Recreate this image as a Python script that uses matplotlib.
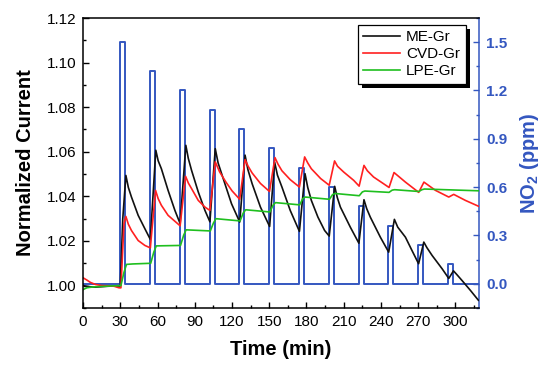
import matplotlib
matplotlib.use("Agg")
import matplotlib.pyplot as plt
from matplotlib.ticker import MultipleLocator
from matplotlib.patches import Rectangle

plt.rcParams['font.family'] = ['Liberation Sans', 'DejaVu Sans']
plt.rcParams['mathtext.fontset'] = 'custom'
plt.rcParams['mathtext.rm'] = 'Liberation Sans'
plt.rcParams['mathtext.bf'] = 'Liberation Sans:bold'

# ---- data ----
me_t = [0, 5, 10, 15, 20, 25, 30,
        32, 34.5, 36.5, 39, 44.4, 49.8, 54.2,
        58.6, 60.5, 63.1, 68.5, 74, 78.2,
        82.8, 84.8, 87.4, 92.8, 98.2, 102.2,
        106.5, 108.8, 112.9, 119.6, 126.2,
        130.5, 132.8, 136.2, 142.9, 150.3,
        154.3, 156.6, 160.2, 166.9, 174.3,
        178.8, 181, 183.9, 189.2, 194.6, 198.3,
        202.7, 204.8, 207.3, 215.3, 222.2,
        226.3, 228.5, 231.4, 239.5, 246.2,
        250.8, 253.5, 259.7, 265, 270.3,
        274.5, 277, 281.2, 289.3, 294.6,
        298.4, 301, 305.4, 312.1, 318.5]
me_v = [1.0000, 0.9995, 0.9993, 0.9995, 0.9997, 0.9998, 0.9998,
        1.0300, 1.0494, 1.0440, 1.0397, 1.0315, 1.0255, 1.0207,
        1.0607, 1.0560, 1.0524, 1.0427, 1.0337, 1.0278,
        1.0629, 1.0570, 1.0517, 1.0420, 1.0337, 1.0286,
        1.0614, 1.0550, 1.0480, 1.0367, 1.0285,
        1.0585, 1.0520, 1.0457, 1.0352, 1.0265,
        1.0554, 1.0495, 1.0442, 1.0337, 1.0243,
        1.0502, 1.0440, 1.0382, 1.0307, 1.0247, 1.0222,
        1.0445, 1.0395, 1.0352, 1.0262, 1.0190,
        1.0385, 1.0345, 1.0307, 1.0217, 1.0150,
        1.0297, 1.0262, 1.0217, 1.0157, 1.0098,
        1.0195, 1.0170, 1.0135, 1.0075, 1.0032,
        1.0066, 1.0050, 1.0022, 0.9978, 0.9934]

cvd_t = [0, 3, 6, 10, 15, 20, 25, 29, 30.5,
         33, 34.5, 36.5, 39, 44.4, 49.8, 54.2,
         58.4, 60.5, 63.1, 68.5, 78.2,
         82.6, 84.8, 87.4, 92.8, 98.2, 102.2,
         106.5, 110, 115, 120, 126.2,
         130.5, 133, 136.2, 142.9, 150.2,
         154.6, 157, 160.2, 166.9, 174.3,
         178.5, 181, 183.9, 191.4, 198.3,
         202.6, 205, 210, 218, 222.4,
         226.3, 229, 234, 242, 246.5,
         250.5, 259.7, 270.4,
         274.6, 283.9, 294.6,
         298.6, 308, 318.5]
cvd_v = [1.0035, 1.0025, 1.0014, 1.0005, 1.0000, 0.9999, 0.9997, 0.9990, 0.9990,
         1.0280, 1.0310, 1.0275, 1.0247, 1.0202, 1.0180, 1.0169,
         1.0427, 1.0390, 1.0360, 1.0315, 1.0268,
         1.0490, 1.0460, 1.0435, 1.0382, 1.0352, 1.0337,
         1.0555, 1.0510, 1.0465, 1.0425, 1.0387,
         1.0565, 1.0535, 1.0505, 1.0458, 1.0422,
         1.0574, 1.0545, 1.0515, 1.0475, 1.0442,
         1.0577, 1.0550, 1.0524, 1.0480, 1.0450,
         1.0559, 1.0535, 1.0509, 1.0472, 1.0446,
         1.0539, 1.0515, 1.0487, 1.0457, 1.0440,
         1.0507, 1.0464, 1.0418,
         1.0464, 1.0427, 1.0397,
         1.0409, 1.0382, 1.0356]

lpe_t = [0, 3, 8, 15, 25, 30.5,
         33, 35, 40, 54.5,
         57, 59, 78.5,
         81, 83, 102.5,
         105, 107, 126.5,
         129, 131, 150.5,
         153, 155, 174.5,
         177, 179, 198.5,
         201, 203, 222.5,
         225, 227, 246.5,
         249, 251, 270.5,
         273, 275, 319]
lpe_v = [0.9982, 0.9990, 0.9994, 0.9996, 0.9999, 1.0000,
         1.0060, 1.0095, 1.0097, 1.0100,
         1.0150, 1.0178, 1.0180,
         1.0225, 1.0250, 1.0245,
         1.0280, 1.0300, 1.0290,
         1.0325, 1.0340, 1.0330,
         1.0360, 1.0372, 1.0362,
         1.0390, 1.0397, 1.0387,
         1.0408, 1.0413, 1.0403,
         1.0420, 1.0424, 1.0418,
         1.0428, 1.0430, 1.0422,
         1.0430, 1.0433, 1.0425]

pulse_start = [30, 54, 78, 102, 126, 150, 174, 198, 222, 246, 270, 294]
pulse_width = 4
pulse_ppm = [1.50, 1.32, 1.20, 1.08, 0.96, 0.84, 0.72, 0.60, 0.48, 0.36, 0.24, 0.12]
t_end = 319

x_ticks = [0, 30, 60, 90, 120, 150, 180, 210, 240, 270, 300]
y_ticks = [1.00, 1.02, 1.04, 1.06, 1.08, 1.10, 1.12]
y2_ticks = [0.0, 0.3, 0.6, 0.9, 1.2, 1.5]

# build the NO2 step trace from the pulse table
no2_t = [0]
no2_v = [0]
for s, h in zip(pulse_start, pulse_ppm):
    no2_t += [s, s, s + pulse_width, s + pulse_width]
    no2_v += [0, h, h, 0]
no2_t.append(t_end)
no2_v.append(0)

BLUE = '#3457c0'

fig = plt.figure(figsize=(5.5, 3.75), dpi=100)
ax = fig.add_axes([0.151, 0.179, 0.720, 0.773])
ax2 = ax.twinx()
ax.set_zorder(ax2.get_zorder() + 1)
ax.patch.set_visible(False)

ax2.plot(no2_t, no2_v, color=BLUE, lw=1.4)
ax.plot(me_t, me_v, color='#111111', lw=1.2, label='ME-Gr')
ax.plot(cvd_t, cvd_v, color='#ff2020', lw=1.2, label='CVD-Gr')
ax.plot(lpe_t, lpe_v, color='#1fbf1f', lw=1.2, label='LPE-Gr')

ax.set_xlim(0, t_end)
ax.set_ylim(0.99, 1.12)
ax2.set_ylim(-0.15, 1.65)

ax.set_xticks(x_ticks)
ax.set_yticks(y_ticks)
ax.set_yticklabels([f'{v:.2f}' for v in y_ticks])
ax.xaxis.set_minor_locator(MultipleLocator(15))
ax.yaxis.set_minor_locator(MultipleLocator(0.01))
ax2.set_yticks(y2_ticks)
ax2.set_yticklabels([f'{v:.1f}' for v in y2_ticks])
ax2.yaxis.set_minor_locator(MultipleLocator(0.15))

ax.tick_params(axis='both', which='major', direction='in', length=4, width=1,
               labelsize=11, colors='black', pad=5)
ax.tick_params(axis='both', which='minor', direction='in', length=2.5, width=1)
ax.tick_params(axis='y', right=False)
ax.tick_params(axis='x', top=False)
ax2.tick_params(axis='y', which='major', direction='in', length=4, width=1,
                colors=BLUE, labelsize=11, pad=5)
ax2.tick_params(axis='y', which='minor', direction='in', length=2.5, width=1,
                colors=BLUE)
for lab in ax2.get_yticklabels():
    lab.set_fontweight('bold')

ax.spines['right'].set_visible(False)
for s in ['left', 'bottom', 'top']:
    ax.spines[s].set_linewidth(1.1)
ax2.spines['right'].set_color(BLUE)
ax2.spines['right'].set_linewidth(1.1)
ax2.spines['left'].set_visible(False)
ax2.spines['top'].set_visible(False)
ax2.spines['bottom'].set_visible(False)

ax.set_xlabel('Time (min)', fontsize=14.5, fontweight='bold', labelpad=8)
ax.set_ylabel('Normalized Current', fontsize=14.5, fontweight='bold', labelpad=8)
ax2.set_ylabel(r'NO$_\mathbf{2}$ (ppm)', fontsize=14.5, fontweight='bold',
               color=BLUE, labelpad=8)

leg = ax.legend(loc='upper right', bbox_to_anchor=(0.966, 0.976), borderaxespad=0,
                fontsize=11, frameon=True, fancybox=False, shadow=False,
                framealpha=1, facecolor='white',
                handlelength=2.4, handletextpad=0.4, labelspacing=0.2,
                borderpad=0.35)
leg.get_frame().set_edgecolor('black')
leg.get_frame().set_linewidth(0.9)
leg.set_zorder(10)

# solid black drop shadow offset down-right, like the reference
fig.canvas.draw()
bb = leg.get_window_extent()
off = 4
shadow = Rectangle((bb.x0 + off, bb.y0 - off), bb.width, bb.height,
                   transform=None, facecolor='black', edgecolor='none', zorder=9)
ax.add_artist(shadow)

fig.savefig('out.png', dpi=100)
